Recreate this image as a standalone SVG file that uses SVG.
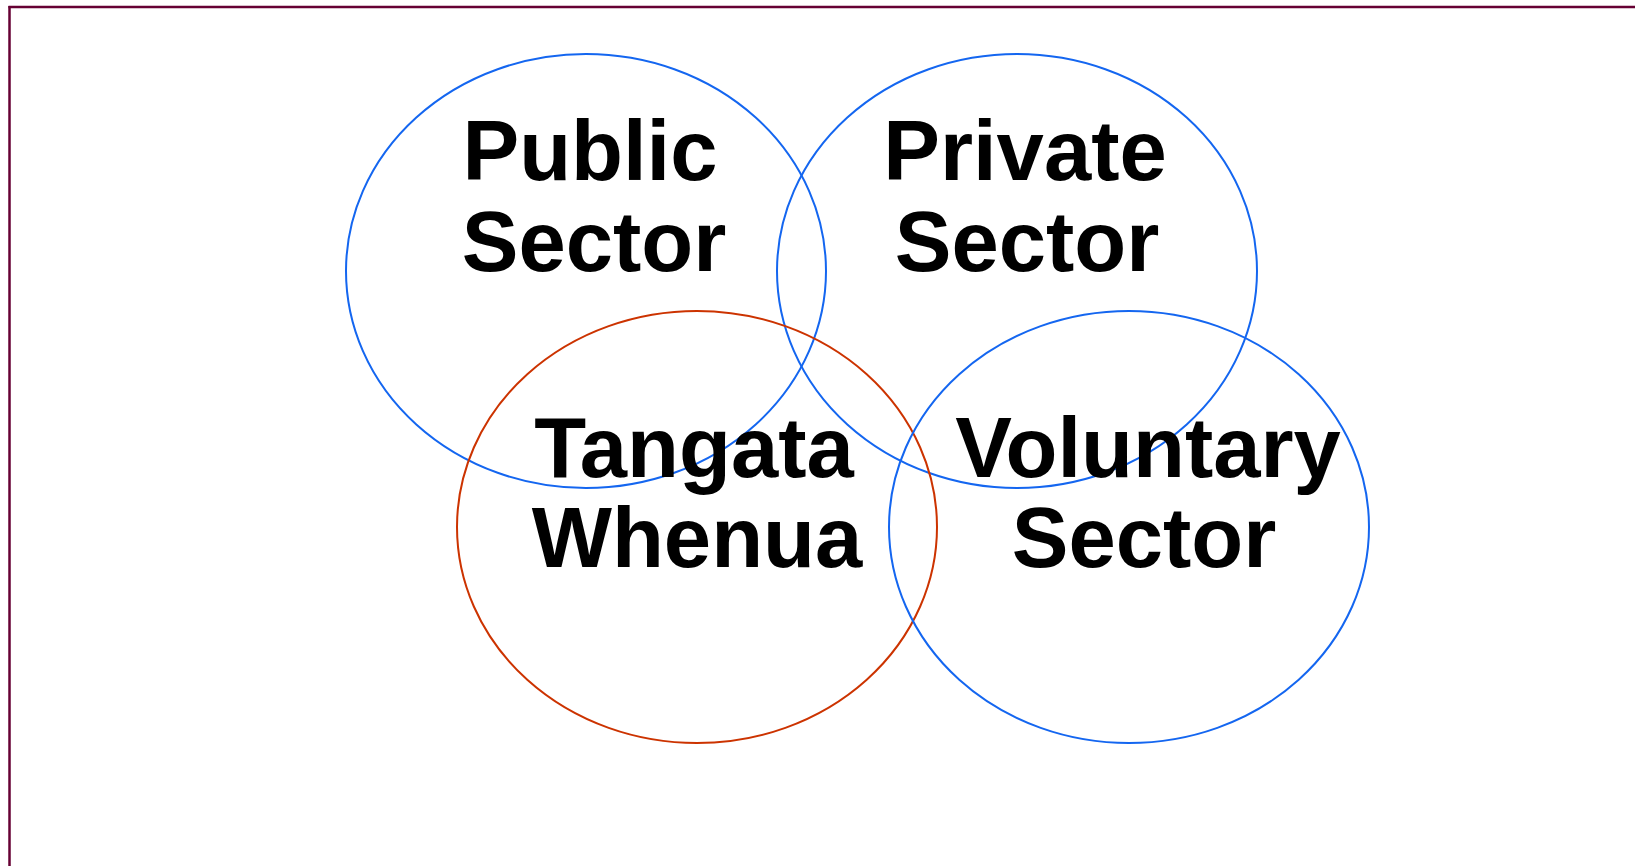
<svg xmlns="http://www.w3.org/2000/svg" width="1635" height="866" viewBox="0 0 1635 866">
<style>
.ring{fill:none;stroke-width:2}
.blue{stroke:#1466f0}
.red{stroke:#cc3300}
.lbl{font-family:"Liberation Sans",Arial,sans-serif;font-weight:bold;font-size:85px;fill:#000;text-anchor:middle}
</style>
<rect width="1635" height="866" fill="#fff"/>
<g id="frame">
<line x1="8.5" y1="7" x2="1635" y2="7" stroke="#660033" stroke-width="2.5"/>
<line x1="9.5" y1="6" x2="9.5" y2="866" stroke="#660033" stroke-width="2.5"/>
</g>
<g id="public">
<ellipse class="ring blue" cx="586" cy="271" rx="240" ry="217"/>
<text class="lbl" x="590" y="180">Public</text>
<text class="lbl" x="594" y="271">Sector</text>
</g>
<g id="private">
<ellipse class="ring blue" cx="1017" cy="271" rx="240" ry="217"/>
<text class="lbl" x="1025" y="180">Private</text>
<text class="lbl" x="1027" y="271">Sector</text>
</g>
<g id="tangata">
<ellipse class="ring red" cx="697" cy="527" rx="240" ry="216"/>
<text class="lbl" x="694" y="477">Tangata</text>
<text class="lbl" x="697" y="567">Whenua</text>
</g>
<g id="voluntary">
<ellipse class="ring blue" cx="1129" cy="527" rx="240" ry="216"/>
<text class="lbl" x="1148" y="477">Voluntary</text>
<text class="lbl" x="1144" y="567">Sector</text>
</g>
<g id="connectors"/>
</svg>
